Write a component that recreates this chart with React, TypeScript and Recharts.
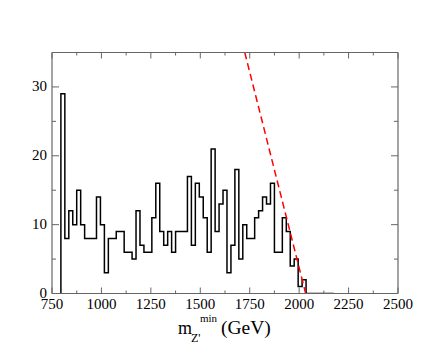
import { ComposedChart, Line, XAxis, YAxis, ReferenceLine } from 'recharts';

// histogram: 20 GeV bins starting at 795 GeV
const binStart = 795;
const binWidth = 20;
const counts = [
  29, 8, 12, 10, 15, 10, 8, 8, 8, 14, 10, 3, 8, 8, 9, 9, 6, 6, 5, 12, 7, 6, 6, 11, 16,
  9, 7, 9, 6, 9, 9, 9, 17, 7, 16, 14, 11, 6, 21, 9, 13, 15, 3, 7, 18, 5, 10, 8, 8, 11,
  12, 14, 13, 16, 6, 6, 11, 9, 4, 5, 1, 2, 0, 0, 0, 0, 0, 0, 0,
];

// red dashed fit line end points (GeV, events)
const fitLine = [
  { x: 1725, y: 35 },
  { x: 2033, y: 0 },
];

const xTicks = [750, 875, 1000, 1125, 1250, 1375, 1500, 1625, 1750, 1875, 2000, 2125, 2250, 2375, 2500];
const yTicks = [0, 5, 10, 15, 20, 25, 30, 35];

const histPoints: { x: number; y: number }[] = [{ x: binStart, y: 0 }];
counts.forEach((c, i) => {
  histPoints.push({ x: binStart + i * binWidth, y: c });
  histPoints.push({ x: binStart + (i + 1) * binWidth, y: c });
});

const FONT = 'Liberation Serif, Times New Roman, serif';
const AXIS = '#666';

const BottomTick = (props: any) => {
  const { x, y, payload } = props;
  const major = payload.value % 250 === 0;
  return (
    <g>
      <line x1={x} y1={y} x2={x} y2={y - (major ? 6 : 3)} stroke={AXIS} />
      {major && (
        <text x={x} y={y + 15} textAnchor="middle" fontFamily={FONT} fontSize={15} fill="#000">
          {payload.value}
        </text>
      )}
    </g>
  );
};

const TopTick = (props: any) => {
  const { x, y, payload } = props;
  const major = payload.value % 250 === 0;
  return <line x1={x} y1={y} x2={x} y2={y + (major ? 6 : 3)} stroke={AXIS} />;
};

const LeftTick = (props: any) => {
  const { x, y, payload } = props;
  const major = payload.value % 10 === 0;
  return (
    <g>
      <line x1={x} y1={y} x2={x + (major ? 7 : 4)} y2={y} stroke={AXIS} />
      {major && (
        <text x={x - 5} y={y + 4} textAnchor="end" fontFamily={FONT} fontSize={15} fill="#000">
          {payload.value}
        </text>
      )}
    </g>
  );
};

const RightTick = (props: any) => {
  const { x, y, payload } = props;
  const major = payload.value % 10 === 0;
  return <line x1={x} y1={y} x2={x - (major ? 7 : 4)} y2={y} stroke={AXIS} />;
};

const AxisTitle = () => (
  <g fontFamily={FONT} fill="#000">
    <text x={178} y={334} fontSize={18}>m</text>
    <text x={191} y={342} fontSize={12}>Z'</text>
    <text x={200} y={321.5} fontSize={11}>min</text>
    <text x={221} y={334} fontSize={19.5}>(GeV)</text>
  </g>
);

export default function App() {
  return (
    <div style={{ position: 'absolute', left: 0, top: 0, width: 448, height: 346, background: '#fff' }}>
      <ComposedChart width={448} height={346} margin={{ top: 51.5, right: 49, bottom: 51.5, left: 51 }}>
        <XAxis
          xAxisId="bottom"
          dataKey="x"
          type="number"
          domain={[750, 2500]}
          ticks={xTicks}
          interval={0}
          height={1}
          tickSize={0}
          tickMargin={0}
          tickLine={false}
          tick={<BottomTick />}
          axisLine={{ stroke: AXIS, strokeWidth: 1.2 }}
          allowDataOverflow
          label={{ content: () => <AxisTitle /> }}
        />
        <XAxis
          xAxisId="top"
          orientation="top"
          dataKey="x"
          type="number"
          domain={[750, 2500]}
          ticks={xTicks}
          interval={0}
          height={1}
          tickSize={0}
          tickMargin={0}
          tickLine={false}
          tick={<TopTick />}
          axisLine={{ stroke: AXIS, strokeWidth: 1.2 }}
          allowDataOverflow
        />
        <YAxis
          yAxisId="left"
          type="number"
          domain={[0, 35]}
          ticks={yTicks}
          interval={0}
          width={1}
          tickSize={0}
          tickMargin={0}
          tickLine={false}
          tick={<LeftTick />}
          axisLine={{ stroke: AXIS, strokeWidth: 1.2 }}
          allowDataOverflow
        />
        <YAxis
          yAxisId="right"
          orientation="right"
          type="number"
          domain={[0, 35]}
          ticks={yTicks}
          interval={0}
          width={1}
          tickSize={0}
          tickMargin={0}
          tickLine={false}
          tick={<RightTick />}
          axisLine={{ stroke: AXIS, strokeWidth: 1.2 }}
          allowDataOverflow
        />
        <Line
          xAxisId="bottom"
          yAxisId="left"
          data={histPoints}
          dataKey="y"
          type="linear"
          stroke="#000"
          strokeWidth={1.5}
          dot={false}
          activeDot={false}
          isAnimationActive={false}
        />
        <ReferenceLine
          xAxisId="bottom"
          yAxisId="left"
          segment={fitLine}
          stroke="#ff0000"
          strokeWidth={1.5}
          strokeDasharray="7 4"
          ifOverflow="visible"
        />
      </ComposedChart>
    </div>
  );
}
